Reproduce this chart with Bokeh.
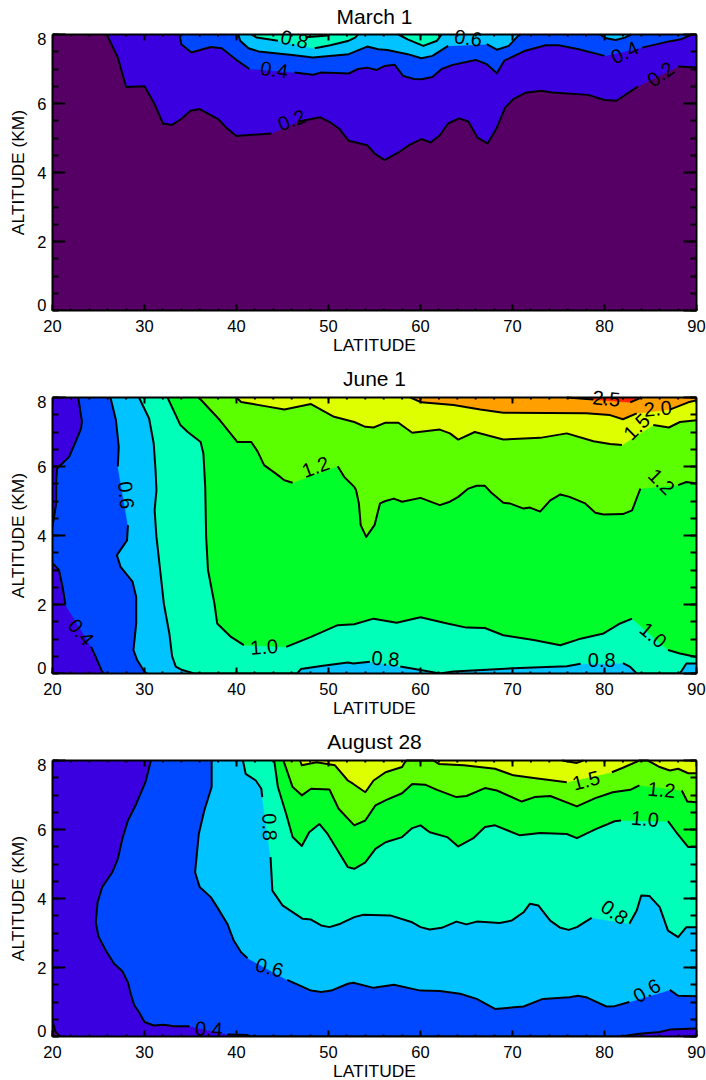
import math
from bokeh.plotting import figure
from bokeh.layouts import column
from bokeh.models import FixedTicker, LinearAxis, LabelSet, ColumnDataSource, Range1d
from bokeh.core.properties import value
from bokeh.embed import file_html
from bokeh.resources import INLINE

G = None  # gap in a contour line where its label sits

TITLES = ["March 1", "June 1", "August 28"]
BAND = {"0.0": "#560066", "0.2": "#3a00e0", "0.4": "#0048ff", "0.6": "#00c3ff", "0.8": "#00ffb8",
        "1.0": "#00ff2a", "1.2": "#5cff00", "1.5": "#deff00", "2.0": "#ffa000", "2.5": "#ff2000"}
LAT_TICKS = [20, 30, 40, 50, 60, 70, 80, 90]
LAT_MINOR = list(range(20, 91, 2))
ALT_TICKS = [0, 2, 4, 6, 8]
ALT_MINOR = [i * 0.5 for i in range(17)]

# ---- March 1 contours (latitude, altitude km)
M_02 = [(25.9,8),(27.1,7.33),(28,6.48),(30,6.5),(31.1,5.98),(32,5.42),(33,5.38),(34,5.55),(35,5.79),(36,5.84),(37,5.69),(38,5.55),(38.9,5.3),(40,5.06),(43.8,5.13),G,(46.8,5.48),(49.1,5.6),(50.2,5.45),(51.2,5.26),(52.2,4.92),(54.2,4.79),(55.1,4.53),(56.1,4.36),(57.6,4.58),(58.8,4.8),(60.1,4.97),(61.1,4.87),(62.1,5.08),(63,5.42),(64.2,5.57),(65.2,5.48),(66.2,5.01),(67.3,4.84),(68.3,5.3),(69.2,5.88),(70.1,6.13),(71.4,6.31),(73.1,6.37),(74.3,6.32),(78.2,6.25),(80,6.1),(81.3,6.08),(83.6,6.49),G,(88,7.07),(90,7.04)]
M_04 = [(33.8,8),(34,7.72),(35.1,7.48),(37.2,7.64),(38.4,7.6),(39.9,7.28),(41.4,7),G,(46.3,6.9),(48.3,6.83),(49.2,6.9),(52.2,6.87),(53.2,7),(54.2,7.04),(55.2,6.97),(56.1,7.09),(57.2,7.12),(58.1,6.8),(59.3,6.71),(60.1,6.7),(61.3,6.77),(62.3,7),(63.5,7.12),(66,7.26),(67.2,7.14),(68.3,6.88),(69.1,7.24),(71.4,7.53),(73.6,7.69),(75,7.69),(77.2,7.57),(80,7.38),G,(84.1,7.62),(87,7.8),(88.3,7.86),(89.5,8)]
M_06a = [(40.2,8),(40.4,7.82),(41.3,7.6),(42.4,7.51),(46.3,7.4),(48.3,7.33),(52.2,7.43),(54.2,7.65),(55.4,7.57),(56.4,7.55),(58.6,7.43),(60.1,7.31),(61.3,7.38),(63,7.67),G,(67.2,7.72),(68.3,7.56),(69.6,7.67),(70.6,7.96),(70.9,8)]
M_06b = [(79.5,8),(80.2,7.89),(81.2,7.84),(82.2,7.91),(82.9,8)]
M_08a = [(41.6,8),(42.2,7.91),(44.5,7.82),G,(48.5,7.6),(50.2,7.69),(52.2,7.82),(52.9,7.91),(53.2,8)]
M_08b = [(57.6,8),(58.6,7.86),(60.3,7.67),(61.8,7.82),(62.3,8)]
M_10 = [(47.5,7.92),(49.9,7.97)]

# ---- June 1 contours
J_04a = [(22.8,8),(23.2,7.3),(23.1,7.1),(22.5,6.71),(21.8,6.28),(20.5,5.94),(20.4,5.6),(20.4,4.93),(20,4.25)]
J_04b = [(20,3.2),(20.7,3),(21.1,2.5),(21.4,2),G,(24.2,0.77),(24.7,0.48),(25.4,0.05),(25.6,0)]
J_06 = [(26.3,8),(26.9,7.34),(27.2,6.57),(27.1,6),G,(28.2,4.3),(28.1,3.86),(27,3.43),(27.4,3.09),(28.7,2.66),(29.1,2.22),(29.1,1.45),(28.8,0.68),(29.2,0.39),(30,0.05),(30.3,0)]
J_08 = [(29.4,8),(30.5,7.39),(31,6.67),(31.2,5.9),(31.3,5.31),(31.1,4.73),(31.3,3.96),(31.7,3),(32.1,2.03),(32.7,1.16),(33,0.5),(33.4,0.2),(34.1,0.1),(35.4,0),(46.6,0),(47,0.13),(49.2,0.22),(52.1,0.32),(52.7,0.29),(54.5,0.34),G,(57.8,0.2),(60,0.1),(62.1,0),(63.6,0.06),(67.2,0.11),(70.1,0.15),(75.9,0.21),(77.4,0.28),G,(82,0.3),(82.8,0.19),(83.5,0),(88.2,0),(88.9,0.29),(90,0.29)]
J_10 = [(32.5,8),(33.9,7.2),(34.7,7),(36.1,6.71),(36.4,6.38),(36.6,5.41),(36.7,3.96),(36.9,3),(37.6,2.03),(37.9,1.45),(39.4,1.06),(40.8,0.82),G,(45.4,0.77),(48.1,1.06),(51,1.4),(52.8,1.43),(54.9,1.59),(57.4,1.47),(60,1.63),(62.9,1.45),(65,1.33),(67,1.32),(69,1.11),(72.3,0.97),(75.2,0.82),(77.4,1.01),(79.9,1.16),(81.7,1.45),(83,1.59),G,(86.9,0.68),(88.2,0.58),(90,0.48)]
J_12 = [(35.9,8),(38.2,7.34),(40.1,6.71),(41.6,6.71),(42.3,6.43),(43,6.04),(44.5,5.75),(45.2,5.6),(46.1,5.53),G,(51,6.01),(51.7,5.7),(52.8,5.41),(53,5.31),(53.3,4.93),(53.5,4.3),(54.1,3.96),(55,4.3),(55.6,4.93),(56.2,5),(57.1,5.07),(58,4.98),(60,5.09),(62.1,4.88),(63.2,4.98),(64.1,5.12),(65.2,5.36),(66.1,5.44),(67,5.44),(67.7,5.24),(69,4.95),(69.7,4.93),(71.2,4.78),(71.9,4.81),(73,4.69),(74.1,5.02),(75.2,5.19),(76.2,5.12),(77.9,4.93),(79,4.66),(79.9,4.61),(82,4.62),(83,4.73),(83.9,5.36),G,(88,5.46),(88.9,5.55),(90,5.51)]
J_15 = [(40,8),(40.5,7.87),(43.1,7.75),(45.2,7.65),(48.1,7.81),(50.6,7.44),(52.8,7.29),(54,7.15),(54.9,7.13),(56.2,7.27),(57.6,7.27),(59.1,6.98),(62.1,7.07),(63.2,6.96),(64.1,6.78),(65.9,7),(69,6.78),(73,6.83),(75.9,6.96),(78.8,6.73),(80.6,6.65),(81.9,6.62),G,(85.3,7.2),(87,7.13),(88.2,7.29),(90,7.34)]
J_20 = [(58.9,8),(60.1,7.86),(63.6,7.78),(66.5,7.65),(69,7.56),(78,7.54),(80.6,7.49),(82,7.37),(83.5,7.54),G,(87.1,7.65),(89.1,7.86),(90,7.92)]
J_25 = [(75.9,8),(78.8,7.94),G,(82.8,7.86),(84,8)]

# ---- August 28 contours
A_02 = [(20,0.46),(20.3,0.15),(20.8,0)]
A_04 = [(30.7,8),(30.1,7.37),(29.1,6.74),(28.2,6.26),(27.6,5.73),(27.1,5.15),(26.5,4.76),(25.4,4.33),(24.9,3.89),(24.7,3.31),(25,2.9),(25.8,2.49),(26.7,2.11),(27.6,1.89),(28.2,1.57),(28.5,1.24),(28.9,0.9),(29.4,0.71),(30,0.42),(31,0.32),(32.1,0.34),(33.2,0.3),(34.9,0.3),G,(39,0.06),(41.2,0.04),(41.6,0),(81.7,0),(83.8,0.08),(86,0.13),(87.1,0.2),(90,0.23)]
A_06 = [(37.3,8),(37.3,7.23),(36.5,6.55),(35.9,5.87),(35.5,4.76),(36,4.33),(37.2,4.04),(37.9,3.75),(39,3.27),(39.7,2.78),(40.5,2.44),(41.2,2.27),G,(45.5,1.64),(46.6,1.51),(48.1,1.33),(49.2,1.29),(50.3,1.33),(52.1,1.53),(52.7,1.56),(54.9,1.41),(57.1,1.5),(60,1.33),(62.1,1.32),(64.3,1.24),(66.1,1.09),(68.1,0.8),(71.2,0.87),(73.3,1.09),(76.2,1.14),(77.1,1.18),(78,1.14),(80.2,0.87),(81.1,0.88),(82.7,1),G,(87.1,1.35),(88,1.18),(90,1.17)]
A_08 = [(40.7,8),(41,7.61),(42.1,7.42),(42.7,7.18),(42.8,6.94),G,(43.7,5.2),(43.9,4.23),(45,3.8),(47.2,3.41),(48.1,3.39),(49.2,3.22),(50.1,3.17),(51.3,3.27),(52.8,3.46),(53.8,3.53),(56.7,3.51),(59.1,3.31),(60,3.17),(61,3.1),(62.3,3.15),(63.9,3.33),(65,3.25),(66.1,3.33),(68.6,3.29),(69.9,3.36),(71.2,3.6),(71.9,3.85),(72.8,3.8),(74.1,3.36),(75.2,3.15),(76.1,3.09),(77,3.17),(78.6,3.44),G,(82.7,3.27),(83.5,3.65),(84,4.09),(84.9,4.07),(86,3.75),(86.9,3.07),(88,2.88),(88.9,3.17),(90,3.17)]
A_10 = [(44.1,8),(44.5,7.23),(45.4,6.45),(46.1,5.78),(47.1,5.52),(47.9,5.92),(49,6.16),(49.9,5.87),(51,5.39),(52.1,4.91),(52.8,4.86),(54,5.05),(55.1,5.44),(56.2,5.63),(58,5.78),(59.1,6.04),(60,6.12),(61,5.92),(62.9,5.78),(64.1,5.51),(65.8,5.76),(67,6.07),(68.1,6.12),(70.8,5.83),(73,5.9),(75.9,5.87),(77,5.75),(79.1,6.02),(81.1,6.24),(81.8,6.26),G,(86.9,6.24),(87.8,5.92),(89.1,5.49),(90,5.49)]
A_12 = [(45.1,8),(46.1,7.23),(47.1,6.99),(48.1,7.18),(50.1,7.16),(51.1,6.6),(52.8,6.12),(54,6.26),(55.1,6.7),(56.3,6.86),(58,7.05),(59.1,7.32),(60.5,7.3),(61.8,7.15),(63.9,6.94),(65,6.97),(67,7.2),(68.3,7.13),(71,6.81),(72.4,6.94),(74.1,6.97),(77,6.67),(79,6.91),(80.9,7.08),(82.8,7.15),(83.8,7.28),G,(88.4,7.13),(89,6.81),(90,6.79)]
A_15 = [(46.9,8),(47.1,7.86),(48.7,7.95),(50.7,7.86),(52.1,7.42),(52.7,7.32),(54,7.08),(54.9,7.42),(56.2,7.66),(58,7.81),(58.3,7.95),(58.5,8),(61.4,8),(62,7.9),(64.7,7.86),(68.1,7.76),(70.1,7.57),(72.3,7.49),(75.9,7.37),G,(80.8,7.66),(82,7.79),(83.8,8),(84.7,8),(86,7.81),(87.1,7.71),(88,7.76),(89.1,7.63),(90,7.63)]
A_20 = [(75.4,8),(76.5,7.95),(77,7.93),(77.7,8)]

# ---- contour labels: text, latitude, altitude, angle in degrees
M_LABELS = [("0.2",46,5.52,20),("0.4",44.1,6.98,-8),("0.8",46.3,7.86,-12),("0.6",65.2,7.9,-8),("0.4",82.2,7.48,25),("0.2",86.1,6.85,35)]
J_LABELS = [("0.6",28,5.17,-85),("0.4",23.1,1.2,-50),("1.0",43,0.77,5),("1.2",48.6,5.99,20),("0.8",56.2,0.43,-5),("0.8",79.7,0.39,0),("1.0",85.3,1.11,-40),("1.2",86.2,5.56,-45),("1.5",83.5,7.15,45),("2.0",85.8,7.68,5),("2.5",80.2,7.97,-5)]
A_LABELS = [("0.4",37,0.22,-3),("0.6",43.6,2,-15),("0.8",43.6,6.07,-88),("1.5",78,7.42,15),("1.2",86.2,7.15,-5),("1.0",84.4,6.31,-5),("0.8",81.1,3.6,-35),("0.6",84.6,1.33,30)]

FONT = "Liberation Sans"
PX_KM = 34.5      # frame pixels per km
PX_DEG = 9.2      # frame pixels per degree
HEADROOM = 12     # px kept above the 8 km line so that labels on it are not cut


def region(p, pieces, band, corners=()):
    pts = [q for piece in pieces for q in piece if q is not None] + list(corners)
    p.patch([q[0] for q in pts], [q[1] for q in pts], fill_color=BAND[band], line_color=BAND[band], line_width=0.5)


def contour(p, pts):
    xs = [float("nan") if q is None else q[0] for q in pts]
    ys = [float("nan") if q is None else q[1] for q in pts]
    p.line(xs, ys, line_color="black", line_width=2, line_join="round")


def style(ax):
    ax.axis_line_color = "black"
    ax.axis_line_width = 2
    ax.major_tick_line_color = "black"
    ax.minor_tick_line_color = "black"
    ax.major_tick_line_width = 2
    ax.minor_tick_line_width = 2
    ax.major_tick_out = 0
    ax.minor_tick_out = 0
    ax.major_label_text_font = FONT
    ax.major_label_text_font_size = "16.5px"
    ax.major_label_text_color = "black"
    ax.axis_label_text_font = FONT
    ax.axis_label_text_font_size = "17.4px"
    ax.axis_label_text_font_style = "normal"
    ax.axis_label_text_color = "black"


def panel(title, base, fills, lines, labels, height, top, bottom, title_standoff):
    p = figure(width=706, height=height, output_backend="svg", toolbar_location=None,
               frame_height=276 + HEADROOM,
               x_range=Range1d(20, 90), y_range=Range1d(0, 8 + HEADROOM / PX_KM),
               min_border_left=52, min_border_right=10, min_border_top=top - HEADROOM, min_border_bottom=bottom,
               x_axis_type=None, y_axis_type=None, background_fill_color="white", border_fill_color="white")
    p.grid.visible = False
    p.title.text = title
    p.title.text_font = FONT
    p.title.text_font_size = "21px"
    p.title.text_font_style = "normal"
    p.title.text_color = "black"
    p.title.align = "center"
    p.title.standoff = title_standoff
    p.title.offset = 0
    p.outline_line_color = None

    # bottom axis with the latitude ticks and title
    ax = LinearAxis(ticker=FixedTicker(ticks=LAT_TICKS, minor_ticks=LAT_MINOR))
    style(ax)
    ax.major_tick_in = 6
    ax.minor_tick_in = 2
    ax.major_label_standoff = 9
    ax.axis_label = "LATITUDE"
    ax.axis_label_standoff = 0
    ax.axis_label_text_line_height = 1.0
    ax.major_label_text_line_height = 1.0
    p.add_layout(ax, "below")

    # left axis: the end labels 0 and 8 sit just inside the frame, as in the original
    low, high = round(6 / PX_KM, 2), round(8 - 4 / PX_KM, 2)
    ax = LinearAxis(ticker=FixedTicker(ticks=[low, 2, 4, 6, high], minor_ticks=ALT_MINOR), bounds=(0, 8))
    style(ax)
    ax.major_tick_in = 0
    ax.minor_tick_in = 6
    ax.major_label_standoff = 6
    ax.major_label_overrides = {low: "0", high: "8"}
    p.add_layout(ax, "left")

    # outer left axis carrying only the vertical axis title, centred on 4 km
    ax = LinearAxis(ticker=FixedTicker(ticks=[4], minor_ticks=[]))
    style(ax)
    ax.axis_line_color = None
    ax.major_tick_line_color = None
    ax.major_tick_in = 0
    ax.minor_tick_in = 0
    ax.major_label_overrides = {4: "ALTITUDE (KM)"}
    ax.major_label_orientation = "vertical"
    ax.major_label_text_font_size = "17.4px"
    ax.major_label_standoff = 7
    p.add_layout(ax, "left")

    # right axis
    ax = LinearAxis(ticker=FixedTicker(ticks=ALT_TICKS, minor_ticks=ALT_MINOR), bounds=(0, 8))
    style(ax)
    ax.major_tick_in = 13
    ax.minor_tick_in = 6
    ax.major_label_overrides = {v: "" for v in ALT_TICKS}
    ax.major_label_standoff = 0
    p.add_layout(ax, "right")

    p.quad(left=[20], right=[90], bottom=[0], top=[8], fill_color=BAND[base], line_color=None)
    for f in fills:
        region(p, *f)
    for c in lines:
        contour(p, c)

    # 8 km frame line with its ticks, and the long left ticks
    p.line([20, 90], [8, 8], line_color="black", line_width=2)
    p.segment(x0=LAT_MINOR, x1=LAT_MINOR, y0=[8] * len(LAT_MINOR), y1=[8 - 2 / PX_KM] * len(LAT_MINOR),
              line_color="black", line_width=2)
    p.segment(x0=LAT_TICKS, x1=LAT_TICKS, y0=[8] * len(LAT_TICKS), y1=[8 - 6 / PX_KM] * len(LAT_TICKS),
              line_color="black", line_width=2)
    p.segment(x0=[20] * len(ALT_TICKS), x1=[20 + 13 / PX_DEG] * len(ALT_TICKS), y0=ALT_TICKS, y1=ALT_TICKS,
              line_color="black", line_width=2)

    src = ColumnDataSource(dict(t=[l[0] for l in labels], x=[l[1] for l in labels], y=[l[2] for l in labels],
                                a=[math.radians(l[3]) for l in labels]))
    p.add_layout(LabelSet(x="x", y="y", text="t", angle="a", source=src, text_align="center",
                          text_baseline="middle", text_font=value(FONT), text_font_size=value("20px"), text_color="black"))
    return p


TR = (90, 8)
BR = (90, 0)
p1 = panel(TITLES[0], "0.0",
           [([M_02], "0.2", [TR]), ([M_04], "0.4"), ([M_06a], "0.6"), ([M_06b], "0.6"), ([M_08a], "0.8"), ([M_08b], "0.8")],
           [M_02, M_04, M_06a, M_06b, M_08a, M_08b, M_10], M_LABELS, 361, 34, 51, -10)
p2 = panel(TITLES[1], "0.2",
           [([J_04a, J_04b], "0.4", [BR, TR]), ([J_06], "0.6", [BR, TR]), ([J_08], "0.8", [TR]), ([J_10], "1.0", [TR]),
            ([J_12], "1.2", [TR]), ([J_15], "1.5", [TR]), ([J_20], "2.0", [TR]), ([J_25], "2.5")],
           [J_04a, J_04b, J_06, J_08, J_10, J_12, J_15, J_20, J_25], J_LABELS, 363, 36, 51, -9)
p3 = panel(TITLES[2], "0.2",
           [([A_02], "0.0", [(20, 0)]), ([A_04], "0.4", [TR]), ([A_06], "0.6", [TR]), ([A_08], "0.8", [TR]), ([A_10], "1.0", [TR]),
            ([A_12], "1.2", [TR]), ([A_15], "1.5", [TR]), ([A_20], "2.0")],
           [A_02, A_04, A_06, A_08, A_10, A_12, A_15, A_20], A_LABELS, 356, 36, 44, -9)

page = column(p1, p2, p3, spacing=0)
open("out.html", "w").write(file_html(page, INLINE))
